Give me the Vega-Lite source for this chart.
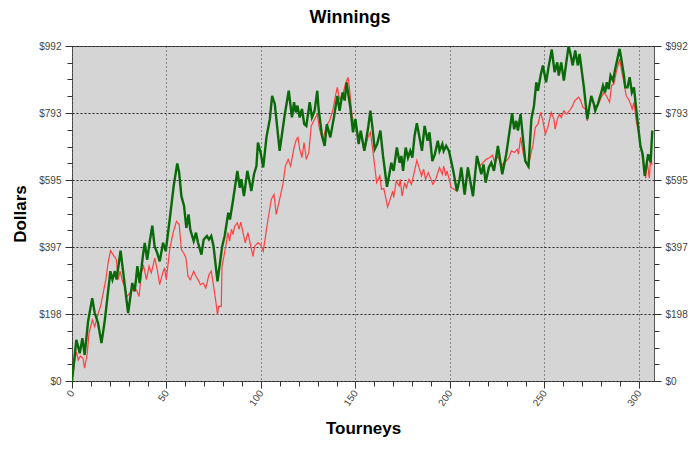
{
  "$schema": "https://vega.github.io/schema/vega-lite/v6.json",
  "width": 582,
  "height": 335,
  "autosize": {"type": "none"},
  "padding": {"left": 72, "top": 46, "right": 46, "bottom": 69},
  "background": "#ffffff",
  "title": {"text": "Winnings", "fontSize": 18, "fontWeight": "bold", "font": "Liberation Sans", "color": "#000000", "anchor": "middle", "dx": -13, "offset": 14},
  "datasets": {
    "green": [
      {"t":0,"v":0},{"t":2.3,"v":122},{"t":4.1,"v":82},{"t":5.5,"v":127},{"t":6.7,"v":77},{"t":8.5,"v":176},{"t":10.7,"v":245},{"t":12,"v":202},{"t":13.8,"v":171},{"t":15.6,"v":112},{"t":17.4,"v":181},{"t":18.6,"v":240},{"t":20.3,"v":325},{"t":21.4,"v":300},{"t":22.7,"v":325},{"t":23.6,"v":300},{"t":25.7,"v":386},{"t":26.7,"v":340},{"t":29.7,"v":201},{"t":31.9,"v":290},{"t":33.2,"v":265},{"t":34.6,"v":340},{"t":35.8,"v":290},{"t":37.6,"v":374},{"t":38.5,"v":409},{"t":39.8,"v":359},{"t":41.3,"v":419},{"t":42.5,"v":460},{"t":43.7,"v":399},{"t":45.1,"v":379},{"t":46.4,"v":354},{"t":48.2,"v":409},{"t":49.6,"v":384},{"t":51.7,"v":478},{"t":53.8,"v":577},{"t":55.7,"v":644},{"t":56.7,"v":617},{"t":57.9,"v":547},{"t":59.3,"v":518},{"t":60.5,"v":453},{"t":61.7,"v":493},{"t":62.6,"v":448},{"t":64.4,"v":414},{"t":65.6,"v":439},{"t":66.7,"v":409},{"t":68.5,"v":374},{"t":69.7,"v":419},{"t":71.4,"v":429},{"t":72.5,"v":419},{"t":73.7,"v":429},{"t":74.9,"v":399},{"t":77,"v":295},{"t":79.5,"v":399},{"t":80.8,"v":429},{"t":82.7,"v":498},{"t":83.6,"v":478},{"t":85.3,"v":538},{"t":87.5,"v":622},{"t":88.8,"v":572},{"t":89.6,"v":597},{"t":91,"v":547},{"t":92.8,"v":622},{"t":94.9,"v":562},{"t":96.3,"v":612},{"t":97.6,"v":636},{"t":98.4,"v":706},{"t":99.8,"v":676},{"t":101.2,"v":632},{"t":102.9,"v":721},{"t":104.7,"v":775},{"t":105.9,"v":844},{"t":107.3,"v":820},{"t":109.9,"v":681},{"t":112.5,"v":785},{"t":114.7,"v":859},{"t":116.4,"v":780},{"t":117.5,"v":825},{"t":118.4,"v":795},{"t":119.3,"v":815},{"t":120.5,"v":780},{"t":121.7,"v":805},{"t":122.9,"v":760},{"t":124,"v":755},{"t":125.8,"v":825},{"t":127,"v":780},{"t":128.4,"v":800},{"t":129.8,"v":859},{"t":130.5,"v":805},{"t":132.3,"v":726},{"t":133.7,"v":696},{"t":134.9,"v":760},{"t":136.7,"v":721},{"t":138.6,"v":780},{"t":140.4,"v":844},{"t":141.6,"v":800},{"t":143.2,"v":854},{"t":144.3,"v":830},{"t":145.3,"v":884},{"t":146.1,"v":854},{"t":147.4,"v":805},{"t":148.7,"v":736},{"t":150,"v":775},{"t":151.7,"v":701},{"t":152.8,"v":741},{"t":154.7,"v":681},{"t":156.6,"v":745},{"t":157.9,"v":800},{"t":158.9,"v":755},{"t":160.2,"v":686},{"t":161.5,"v":701},{"t":163.2,"v":741},{"t":164.6,"v":666},{"t":166.7,"v":575},{"t":168.1,"v":617},{"t":169,"v":646},{"t":170.2,"v":622},{"t":171.9,"v":691},{"t":173.4,"v":646},{"t":174.3,"v":666},{"t":175.2,"v":622},{"t":176.6,"v":691},{"t":177.8,"v":661},{"t":179,"v":681},{"t":180.1,"v":661},{"t":181.3,"v":726},{"t":182.5,"v":763},{"t":183.9,"v":721},{"t":185.2,"v":681},{"t":186.6,"v":755},{"t":188.2,"v":711},{"t":189.2,"v":736},{"t":190.7,"v":651},{"t":192,"v":671},{"t":193.6,"v":711},{"t":194.5,"v":681},{"t":196,"v":701},{"t":196.7,"v":681},{"t":198,"v":696},{"t":199.5,"v":681},{"t":201.6,"v":627},{"t":203.7,"v":562},{"t":205.1,"v":597},{"t":206,"v":632},{"t":207.8,"v":552},{"t":209.5,"v":632},{"t":212.2,"v":547},{"t":214.3,"v":666},{"t":216.6,"v":612},{"t":217.8,"v":641},{"t":218.9,"v":587},{"t":220.6,"v":632},{"t":221.9,"v":646},{"t":223.3,"v":622},{"t":225.4,"v":696},{"t":227.7,"v":612},{"t":229.8,"v":671},{"t":231.6,"v":741},{"t":232.9,"v":793},{"t":234,"v":745},{"t":235.1,"v":770},{"t":236,"v":741},{"t":237.4,"v":790},{"t":238.7,"v":716},{"t":239.9,"v":651},{"t":241.6,"v":636},{"t":243.1,"v":775},{"t":244.5,"v":815},{"t":245.7,"v":884},{"t":246.6,"v":859},{"t":248,"v":904},{"t":249.2,"v":934},{"t":250.9,"v":884},{"t":252.2,"v":929},{"t":253.9,"v":981},{"t":255.4,"v":914},{"t":256.8,"v":943},{"t":257.6,"v":904},{"t":258.9,"v":943},{"t":260.3,"v":889},{"t":261.6,"v":943},{"t":262.8,"v":991},{"t":263.8,"v":968},{"t":265,"v":934},{"t":266.3,"v":978},{"t":267.7,"v":934},{"t":268.6,"v":968},{"t":270.9,"v":869},{"t":272.7,"v":775},{"t":273.9,"v":815},{"t":274.8,"v":844},{"t":276.2,"v":820},{"t":276.9,"v":800},{"t":278.3,"v":820},{"t":280.1,"v":854},{"t":281,"v":874},{"t":282.1,"v":854},{"t":283,"v":884},{"t":284,"v":864},{"t":285,"v":904},{"t":286.3,"v":889},{"t":287.5,"v":924},{"t":289.8,"v":983},{"t":290.7,"v":953},{"t":292.1,"v":904},{"t":292.8,"v":869},{"t":294,"v":869},{"t":295.1,"v":899},{"t":296.3,"v":854},{"t":297.4,"v":869},{"t":298.6,"v":805},{"t":299.8,"v":745},{"t":300.8,"v":696},{"t":302,"v":671},{"t":303.1,"v":607},{"t":304.9,"v":671},{"t":306.2,"v":647},{"t":307.1,"v":741}
    ],
    "red": [
      {"t":0,"v":0},{"t":1.5,"v":62},{"t":2.3,"v":87},{"t":3.3,"v":62},{"t":4.4,"v":74},{"t":5.8,"v":67},{"t":6.7,"v":38},{"t":8.1,"v":82},{"t":9,"v":142},{"t":10.8,"v":181},{"t":12,"v":161},{"t":13.9,"v":201},{"t":15.1,"v":221},{"t":16.5,"v":260},{"t":17.9,"v":300},{"t":19.1,"v":350},{"t":20.4,"v":386},{"t":21.7,"v":374},{"t":23.5,"v":359},{"t":24.4,"v":300},{"t":25.4,"v":325},{"t":26.7,"v":295},{"t":27.9,"v":280},{"t":29.1,"v":250},{"t":30.5,"v":260},{"t":32.3,"v":270},{"t":34.1,"v":270},{"t":35.5,"v":250},{"t":36.7,"v":320},{"t":37.9,"v":340},{"t":39.4,"v":300},{"t":40.8,"v":340},{"t":42,"v":320},{"t":43.8,"v":364},{"t":45.1,"v":330},{"t":46.4,"v":285},{"t":48,"v":320},{"t":49,"v":335},{"t":49.9,"v":300},{"t":51.7,"v":389},{"t":53.5,"v":439},{"t":55.3,"v":473},{"t":56.7,"v":463},{"t":57.9,"v":389},{"t":59.1,"v":379},{"t":60.3,"v":364},{"t":61.4,"v":310},{"t":62.6,"v":300},{"t":64.4,"v":325},{"t":65.6,"v":310},{"t":66.7,"v":300},{"t":68,"v":285},{"t":69.4,"v":290},{"t":70.8,"v":275},{"t":72.5,"v":315},{"t":73.7,"v":325},{"t":74.7,"v":290},{"t":76,"v":240},{"t":77,"v":196},{"t":77.6,"v":221},{"t":79,"v":221},{"t":79.4,"v":340},{"t":80.4,"v":369},{"t":81.7,"v":409},{"t":82.5,"v":439},{"t":83.4,"v":414},{"t":84.4,"v":449},{"t":85.2,"v":434},{"t":86.1,"v":458},{"t":87.5,"v":468},{"t":88.4,"v":449},{"t":89.3,"v":470},{"t":90.5,"v":439},{"t":91.7,"v":409},{"t":93.1,"v":439},{"t":94.6,"v":399},{"t":95.8,"v":369},{"t":96.7,"v":399},{"t":98.4,"v":409},{"t":99.8,"v":404},{"t":101.2,"v":384},{"t":102.4,"v":429},{"t":103.7,"v":478},{"t":105.5,"v":538},{"t":106.9,"v":552},{"t":108.1,"v":493},{"t":109.9,"v":538},{"t":111.6,"v":582},{"t":112.9,"v":636},{"t":114.4,"v":656},{"t":115.7,"v":636},{"t":117.5,"v":691},{"t":118.8,"v":716},{"t":119.6,"v":721},{"t":120.5,"v":686},{"t":121.7,"v":661},{"t":122.8,"v":706},{"t":124,"v":656},{"t":125.3,"v":676},{"t":126.6,"v":755},{"t":128.4,"v":775},{"t":129.8,"v":790},{"t":131,"v":745},{"t":132.8,"v":711},{"t":134.5,"v":755},{"t":136.3,"v":770},{"t":138.2,"v":805},{"t":139.4,"v":844},{"t":140.4,"v":869},{"t":141.6,"v":834},{"t":143.4,"v":849},{"t":144.7,"v":879},{"t":146.1,"v":899},{"t":146.9,"v":864},{"t":148.2,"v":785},{"t":149.6,"v":755},{"t":151.7,"v":726},{"t":152.8,"v":735},{"t":154.7,"v":681},{"t":156.6,"v":721},{"t":157.9,"v":736},{"t":158.9,"v":696},{"t":160.2,"v":636},{"t":161.2,"v":587},{"t":162.9,"v":607},{"t":163.8,"v":567},{"t":165,"v":570},{"t":166.2,"v":538},{"t":167,"v":515},{"t":168.1,"v":533},{"t":169.7,"v":562},{"t":170.2,"v":543},{"t":171.6,"v":592},{"t":173.1,"v":577},{"t":173.7,"v":597},{"t":174.7,"v":547},{"t":176,"v":587},{"t":176.9,"v":572},{"t":178.3,"v":597},{"t":179.6,"v":582},{"t":180.9,"v":612},{"t":182.5,"v":653},{"t":183.9,"v":627},{"t":185,"v":607},{"t":186.1,"v":627},{"t":187.1,"v":597},{"t":188.5,"v":617},{"t":189.6,"v":602},{"t":191,"v":582},{"t":192.5,"v":597},{"t":193.6,"v":617},{"t":194.5,"v":632},{"t":196,"v":612},{"t":196.7,"v":636},{"t":197.8,"v":607},{"t":198.5,"v":622},{"t":199.8,"v":592},{"t":200.7,"v":572},{"t":202.5,"v":567},{"t":203.7,"v":562},{"t":205.1,"v":597},{"t":206,"v":632},{"t":207.8,"v":552},{"t":209.5,"v":632},{"t":212.2,"v":547},{"t":214.3,"v":666},{"t":215.7,"v":636},{"t":217.5,"v":646},{"t":219.2,"v":656},{"t":220.9,"v":661},{"t":222.5,"v":668},{"t":223.8,"v":646},{"t":225.4,"v":666},{"t":227.2,"v":636},{"t":228.5,"v":646},{"t":229.8,"v":651},{"t":231.2,"v":661},{"t":232.5,"v":681},{"t":234.2,"v":676},{"t":235.6,"v":686},{"t":236.3,"v":671},{"t":237.4,"v":721},{"t":238.7,"v":676},{"t":239.9,"v":651},{"t":241.4,"v":632},{"t":242.8,"v":671},{"t":244,"v":701},{"t":245.2,"v":751},{"t":246.6,"v":760},{"t":248,"v":795},{"t":249.2,"v":770},{"t":250.5,"v":731},{"t":251.8,"v":750},{"t":253.6,"v":795},{"t":255,"v":775},{"t":255.7,"v":745},{"t":256.8,"v":775},{"t":258,"v":790},{"t":258.9,"v":780},{"t":260.3,"v":800},{"t":261.6,"v":790},{"t":263.3,"v":800},{"t":265,"v":815},{"t":266,"v":830},{"t":266.9,"v":834},{"t":268.1,"v":840},{"t":269.2,"v":830},{"t":270.4,"v":810},{"t":271.7,"v":805},{"t":272.7,"v":770},{"t":273.9,"v":820},{"t":275.1,"v":834},{"t":276.3,"v":815},{"t":278.3,"v":815},{"t":280.1,"v":840},{"t":281.5,"v":854},{"t":282.8,"v":844},{"t":284.5,"v":825},{"t":285.5,"v":874},{"t":286.8,"v":879},{"t":288,"v":914},{"t":289.8,"v":953},{"t":291,"v":914},{"t":292.1,"v":884},{"t":293.3,"v":844},{"t":294.5,"v":834},{"t":295.6,"v":820},{"t":296.5,"v":805},{"t":297.4,"v":825},{"t":298.6,"v":770},{"t":299.5,"v":745},{"t":301.2,"v":686},{"t":302.5,"v":640},{"t":303.6,"v":600},{"t":304.4,"v":650},{"t":305.5,"v":600},{"t":306.2,"v":655},{"t":307,"v":640}
    ]
  },
  "encoding": {
    "x": {
      "field": "t", "type": "quantitative",
      "scale": {"domain": [0, 308], "nice": false, "zero": false},
      "axis": {
        "orient": "bottom",
        "title": "Tourneys",
        "values": [0,10,20,30,40,50,60,70,80,90,100,110,120,130,140,150,160,170,180,190,200,210,220,230,240,250,260,270,280,290,300],
        "labelExpr": "datum.value % 50 == 0 ? datum.label : ''",
        "labelAngle": -55, "labelAlign": "right", "labelBaseline": "middle",
        "labelOverlap": false, "labelFlush": false,
        "labelFont": "Liberation Sans", "labelFontSize": 10, "labelColor": "#444444", "labelPadding": 3,
        "grid": true,
        "gridOpacity": {"condition": {"test": "datum.value % 50 == 0", "value": 1}, "value": 0},
        "gridColor": "#333333", "gridDash": [1, 3], "gridWidth": 1,
        "tickColor": "#333333",
        "tickSize": {"condition": {"test": "datum.value % 50 == 0", "value": 7}, "value": 5},
        "domain": false,
        "titleFont": "Liberation Sans", "titleFontSize": 17, "titleFontWeight": "bold", "titleColor": "#000000",
        "titleX": 291, "titleY": 47, "titleBaseline": "middle", "titleAlign": "center"
      }
    }
  },
  "layer": [
    {
      "data": {"name": "red"},
      "mark": {"type": "line", "color": "#ff4040", "strokeWidth": 1.2, "clip": true},
      "encoding": {
        "y": {
          "field": "v", "type": "quantitative",
          "scale": {"domain": [0, 991.5], "nice": false, "zero": true},
          "axis": {
            "orient": "left",
            "title": "Dollars",
            "values": [0,49.575,99.15,148.725,198.3,247.875,297.45,347.025,396.6,446.175,495.75,545.325,594.9,644.475,694.05,743.625,793.2,842.775,892.35,941.925,991.5],
            "labelExpr": "round(datum.value/49.575) % 4 == 0 ? '$' + format(datum.value, '.0f') : ''",
            "labelOverlap": false, "labelFlush": false,
            "labelFont": "Liberation Sans", "labelFontSize": 10, "labelColor": "#444444", "labelPadding": 4,
            "grid": true,
            "gridOpacity": {"condition": {"test": "round(datum.value/49.575) % 4 == 0", "value": 1}, "value": 0},
            "gridColor": "#222222", "gridDash": [2, 2], "gridWidth": 1,
            "tickColor": "#333333",
            "tickSize": {"condition": {"test": "round(datum.value/49.575) % 4 == 0", "value": 7}, "value": 5},
            "domain": false,
            "titleFont": "Liberation Sans", "titleFontSize": 17, "titleFontWeight": "bold", "titleColor": "#000000",
            "titleAngle": -90, "titleX": -52, "titleY": 167.5, "titleBaseline": "middle", "titleAlign": "center"
          }
        }
      }
    },
    {
      "data": {"name": "green"},
      "mark": {"type": "line", "color": "#0a6a0a", "strokeWidth": 2.4, "clip": true},
      "encoding": {
        "y": {
          "field": "v", "type": "quantitative",
          "axis": {
            "orient": "right",
            "title": null,
            "values": [0,49.575,99.15,148.725,198.3,247.875,297.45,347.025,396.6,446.175,495.75,545.325,594.9,644.475,694.05,743.625,793.2,842.775,892.35,941.925,991.5],
            "labelExpr": "round(datum.value/49.575) % 4 == 0 ? '$' + format(datum.value, '.0f') : ''",
            "labelOverlap": false, "labelFlush": false,
            "labelFont": "Liberation Sans", "labelFontSize": 10, "labelColor": "#444444", "labelPadding": 4,
            "grid": false,
            "tickColor": "#333333",
            "tickSize": {"condition": {"test": "round(datum.value/49.575) % 4 == 0", "value": 7}, "value": 5},
            "domain": false
          }
        }
      }
    }
  ],
  "resolve": {"axis": {"y": "independent"}},
  "config": {
    "view": {"fill": "#d5d5d5", "stroke": "#555555", "strokeWidth": 1}
  }
}
